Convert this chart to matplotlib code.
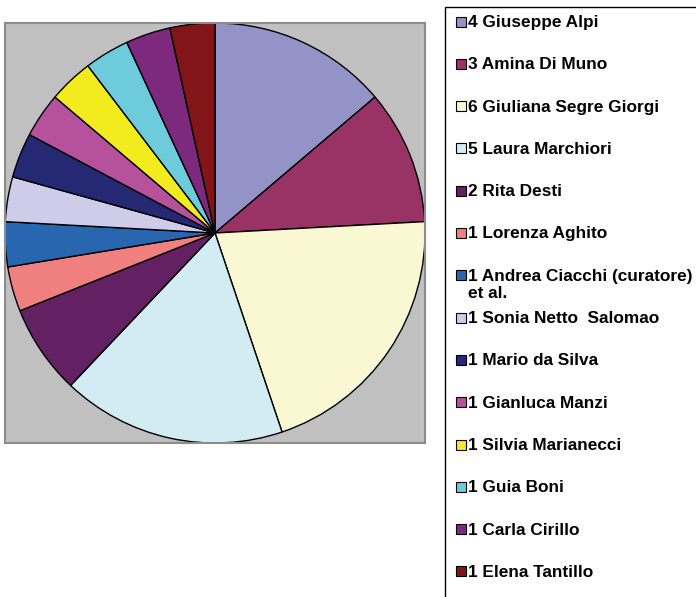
import matplotlib.pyplot as plt
from matplotlib.patches import Rectangle

plt.rcParams['font.family'] = ['Liberation Sans', 'DejaVu Sans']

names = ["Giuseppe Alpi", "Amina Di Muno", "Giuliana Segre Giorgi", "Laura Marchiori",
         "Rita Desti", "Lorenza Aghito", "Andrea Ciacchi (curatore)\net al.",
         "Sonia Netto  Salomao", "Mario da Silva", "Gianluca Manzi",
         "Silvia Marianecci", "Guia Boni", "Carla Cirillo", "Elena Tantillo"]
values = [4, 3, 6, 5, 2, 1, 1, 1, 1, 1, 1, 1, 1, 1]
colors = ["#9393C7", "#993366", "#FAF8D2", "#D3ECF3", "#632063", "#F08080",
          "#2867B0", "#CECCE8", "#252873", "#B6529B", "#F2EB1E", "#6ECBDB",
          "#7C297E", "#811518"]

W, H = 696, 597
fig = plt.figure(figsize=(W / 100, H / 100), dpi=100)

# plot area (pixels from top-left)
x0, y0, x1, y1 = 5, 23, 425, 443
ax = fig.add_axes([x0 / W, 1 - y1 / H, (x1 - x0) / W, (y1 - y0) / H])
ax.set_facecolor("#C0C0C0")
ax.pie(values, colors=colors, startangle=90, counterclock=False, radius=1,
       wedgeprops=dict(edgecolor="black", linewidth=1))
ax.set_xlim(-1, 1)
ax.set_ylim(-1, 1)
ax.set_aspect("auto")
ax.set_xticks([])
ax.set_yticks([])
ax.set_frame_on(True)
for s in ax.spines.values():
    s.set_edgecolor("#8C8C8C")
    s.set_linewidth(1.5)

# legend box
fig.patches.append(Rectangle((445 / W, -0.1), 1, 1 - 7 / H + 0.1,
                             transform=fig.transFigure, facecolor="white",
                             edgecolor="black", linewidth=1))

row0, step = 21.5, 42.3
for i, (v, n, c) in enumerate(zip(values, names, colors)):
    yc = row0 + i * step
    fig.patches.append(Rectangle((456 / W, 1 - (yc + 5) / H), 10 / W, 10 / H,
                                 transform=fig.transFigure, facecolor=c,
                                 edgecolor="black", linewidth=0.8))
    fig.text(468 / W, 1 - (yc - 6.5) / H, f"{v} {n}", fontsize=12.4,
             fontweight="bold", va="top", ha="left", linespacing=1.2)

fig.savefig("out.png", dpi=100)
